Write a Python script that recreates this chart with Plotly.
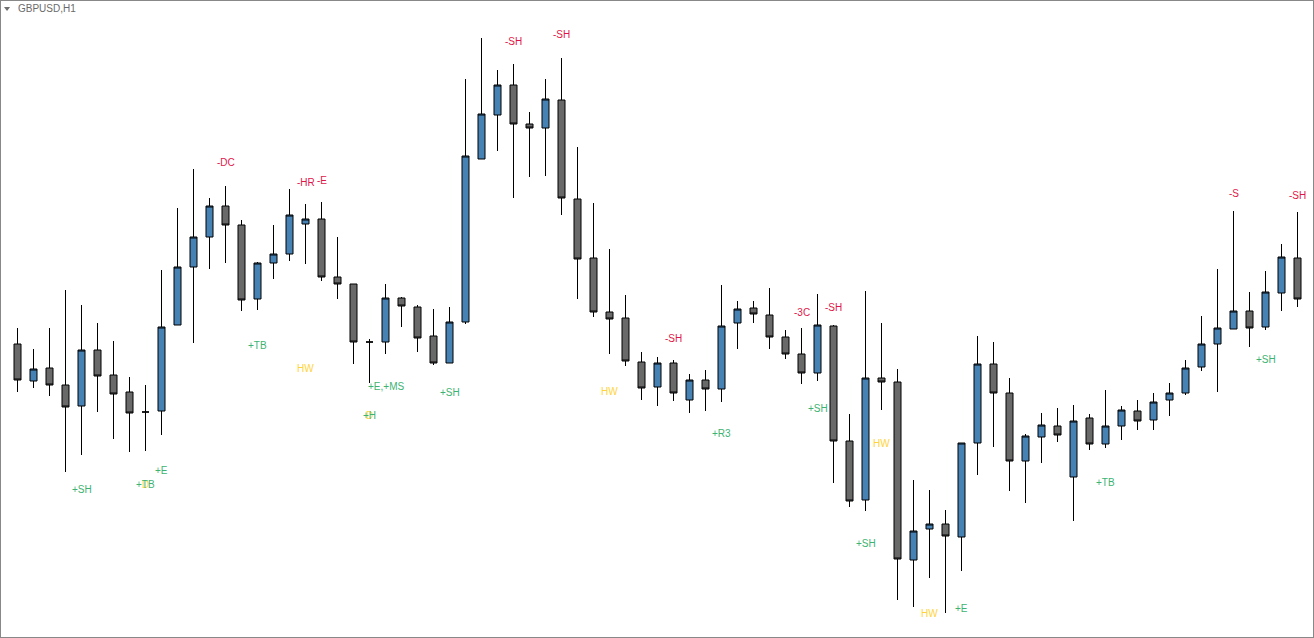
import plotly.graph_objects as go

# ---- data (GBPUSD, H1) ----
hours = list(range(81))

opens = [1.2656, 1.2619, 1.2632, 1.2615, 1.2594, 1.2650, 1.2625, 1.2608, 1.2588, 1.2589,
         1.2675, 1.2733, 1.2763, 1.2794, 1.2775, 1.2701, 1.2737, 1.2746, 1.2776, 1.2781,
         1.2723, 1.2716, 1.2658, 1.2658, 1.2702, 1.2693, 1.2664, 1.2637, 1.2678, 1.2841,
         1.2885, 1.2915, 1.2876, 1.2872, 1.2900, 1.2801, 1.2742, 1.2688, 1.2682, 1.2638,
         1.2613, 1.2637, 1.2600, 1.2620, 1.2611, 1.2677, 1.2692, 1.2685, 1.2663, 1.2646,
         1.2627, 1.2674, 1.2559, 1.2500, 1.2622, 1.2618, 1.2440, 1.2471, 1.2476, 1.2463,
         1.2557, 1.2636, 1.2607, 1.2539, 1.2563, 1.2574, 1.2523, 1.2582, 1.2556, 1.2574,
         1.2589, 1.2580, 1.2600, 1.2607, 1.2633, 1.2656, 1.2671, 1.2689, 1.2673, 1.2707,
         1.2742]

highs = [1.2672, 1.2651, 1.2672, 1.2710, 1.2695, 1.2677, 1.2659, 1.2623, 1.2615, 1.2730,
         1.2792, 1.2831, 1.2802, 1.2814, 1.2780, 1.2738, 1.2775, 1.2811, 1.2796, 1.2798,
         1.2763, 1.2716, 1.2661, 1.2716, 1.2703, 1.2695, 1.2691, 1.2693, 1.2921, 1.2962,
         1.2930, 1.2936, 1.2888, 1.2921, 1.2942, 1.2853, 1.2797, 1.2751, 1.2705, 1.2648,
         1.2643, 1.2640, 1.2626, 1.2630, 1.2715, 1.2699, 1.2699, 1.2712, 1.2670, 1.2672,
         1.2706, 1.2675, 1.2586, 1.2709, 1.2677, 1.2631, 1.2520, 1.2510, 1.2490, 1.2557,
         1.2664, 1.2658, 1.2622, 1.2566, 1.2587, 1.2592, 1.2595, 1.2586, 1.2610, 1.2594,
         1.2600, 1.2607, 1.2617, 1.2640, 1.2684, 1.2731, 1.2789, 1.2708, 1.2729, 1.2756,
         1.2788]

lows = [1.2608, 1.2612, 1.2604, 1.2528, 1.2545, 1.2588, 1.2561, 1.2548, 1.2549, 1.2565,
        1.2675, 1.2657, 1.2731, 1.2737, 1.2689, 1.2690, 1.2721, 1.2739, 1.2736, 1.2719,
        1.2701, 1.2636, 1.2617, 1.2646, 1.2673, 1.2648, 1.2635, 1.2637, 1.2676, 1.2841,
        1.2849, 1.2802, 1.2823, 1.2824, 1.2785, 1.2701, 1.2683, 1.2646, 1.2634, 1.2600,
        1.2594, 1.2599, 1.2587, 1.2589, 1.2598, 1.2651, 1.2677, 1.2651, 1.2641, 1.2616,
        1.2619, 1.2517, 1.2493, 1.2489, 1.2590, 1.2400, 1.2393, 1.2422, 1.2387, 1.2429,
        1.2525, 1.2553, 1.2509, 1.2497, 1.2537, 1.2558, 1.2479, 1.2550, 1.2552, 1.2560,
        1.2570, 1.2570, 1.2584, 1.2605, 1.2629, 1.2608, 1.2671, 1.2653, 1.2670, 1.2689,
        1.2693]

closes = [1.2620, 1.2631, 1.2615, 1.2593, 1.2650, 1.2624, 1.2606, 1.2587, 1.2588, 1.2673,
          1.2733, 1.2763, 1.2794, 1.2775, 1.2700, 1.2737, 1.2746, 1.2785, 1.2781, 1.2723,
          1.2716, 1.2658, 1.2658, 1.2702, 1.2694, 1.2662, 1.2637, 1.2678, 1.2844, 1.2886,
          1.2915, 1.2876, 1.2872, 1.2901, 1.2802, 1.2741, 1.2688, 1.2681, 1.2639, 1.2612,
          1.2637, 1.2607, 1.2620, 1.2611, 1.2674, 1.2691, 1.2686, 1.2663, 1.2646, 1.2627,
          1.2675, 1.2559, 1.2499, 1.2622, 1.2618, 1.2441, 1.2469, 1.2476, 1.2464, 1.2557,
          1.2636, 1.2607, 1.2539, 1.2564, 1.2575, 1.2565, 1.2579, 1.2556, 1.2574, 1.2590,
          1.2579, 1.2598, 1.2607, 1.2632, 1.2656, 1.2672, 1.2689, 1.2672, 1.2708, 1.2743,
          1.2701]

# pattern labels: text, bar index, price level, kind
label_text = ["+SH", "D", "+TB", "+E", "-DC", "+TB", "-HR", "HW", "-E",
              "D", "+H", "+E,+MS", "+SH", "-SH", "-SH", "HW", "-SH", "+R3",
              "-3C", "+SH", "-SH", "+SH", "HW", "HW", "+E", "+TB", "-S", "+SH", "-SH"]
label_bar = [4, 8, 8, 9, 13, 15, 18, 18, 19,
             22, 22, 23, 27, 31, 34, 37, 41, 44,
             49, 50, 51, 53, 54, 57, 59, 68, 76, 78, 80]
label_price = [1.2511, 1.2516, 1.2516, 1.2530, 1.2838, 1.2655, 1.2818, 1.2632, 1.2820,
               1.2585, 1.2585, 1.2614, 1.2608, 1.2959, 1.2966, 1.2609, 1.2662, 1.2567,
               1.2688, 1.2592, 1.2693, 1.2457, 1.2557, 1.2387, 1.2392, 1.2518, 1.2807, 1.2641, 1.2805]
label_kind = ["bull", "warn", "bull", "bull", "bear", "bull", "bear", "warn", "bear",
              "warn", "bull", "bull", "bull", "bear", "bear", "warn", "bear", "bull",
              "bear", "bull", "bear", "bull", "warn", "warn", "bull", "bull", "bear", "bull", "bear"]

kind_color = {"bull": "#3CB371", "bear": "#E0164A", "warn": "#FFD43B"}

fig = go.Figure(
    go.Candlestick(
        x=hours, open=opens, high=highs, low=lows, close=closes,
        increasing=dict(fillcolor="#4682B4", line=dict(color="#000000", width=1)),
        decreasing=dict(fillcolor="#696969", line=dict(color="#000000", width=1)),
        whiskerwidth=0,
        hoverinfo="skip",
        name="GBPUSD,H1",
    )
)

annotations = []
for t, b, p, k in zip(label_text, label_bar, label_price, label_kind):
    annotations.append(dict(
        x=b, y=p, xref="x", yref="y", text=t, showarrow=False,
        xanchor="center", yanchor="middle",
        font=dict(family="Liberation Sans, Arial, sans-serif", size=10, color=kind_color[k]),
    ))

annotations.append(dict(
    x=0.0114, y=0.9882, xref="paper", yref="paper", text="GBPUSD,H1",
    showarrow=False, xanchor="left", yanchor="middle",
    font=dict(family="Liberation Sans, Arial, sans-serif", size=10, color="#6A6A6A"),
))

fig.update_layout(
    width=1314, height=638,
    margin=dict(l=1, r=1, t=1, b=1, pad=0),
    paper_bgcolor="#888888",
    plot_bgcolor="#FFFFFF",
    showlegend=False,
    hovermode=False,
    boxgap=0.375,
    xaxis=dict(visible=False, range=[-1.03125, 80.96875], rangeslider=dict(visible=False), fixedrange=True),
    yaxis=dict(visible=False, range=[1.2363, 1.2999], fixedrange=True),
    annotations=annotations,
    shapes=[dict(type="path", xref="paper", yref="paper",
                 path="M 0.0023 0.9906 L 0.0069 0.9906 L 0.0046 0.9843 Z",
                 fillcolor="#707070", line=dict(width=0))],
)

fig.write_html("out.html", config={"displayModeBar": False},
               post_script="document.body.style.margin='0';document.body.style.overflow='hidden';")
